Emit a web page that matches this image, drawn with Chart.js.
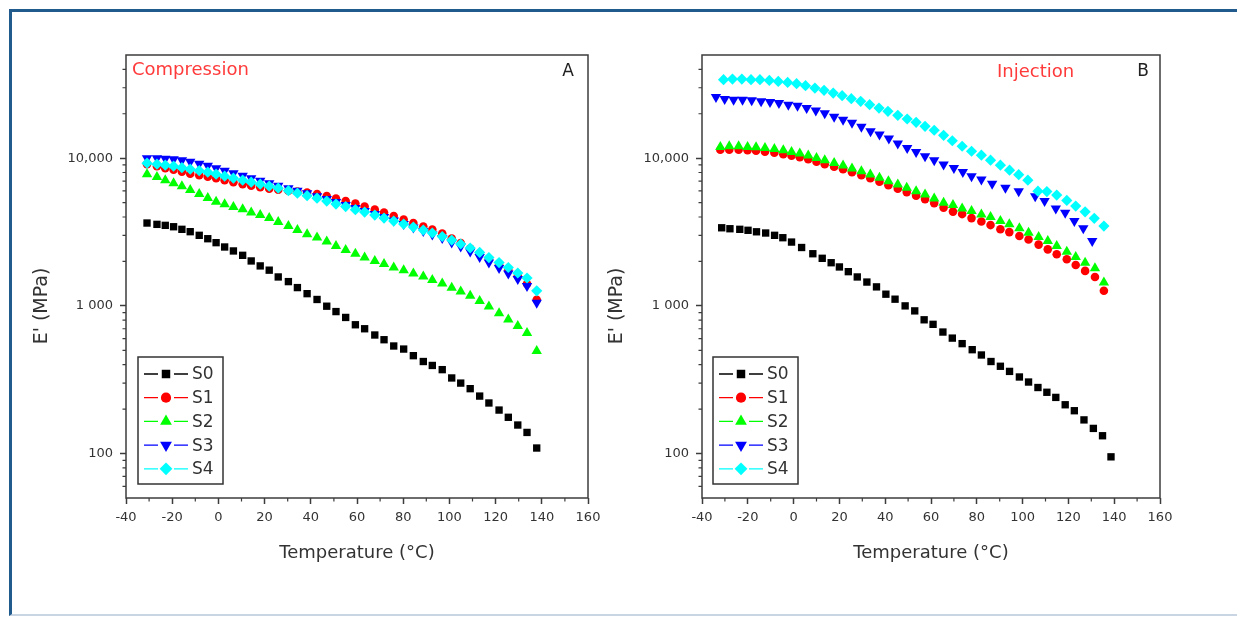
<!DOCTYPE html>
<html>
<head>
<meta charset="utf-8">
<script src="https://cdn.jsdelivr.net/npm/chart.js@4.4.0/dist/chart.umd.min.js"></script>
<style>
  html, body { margin: 0; padding: 0; background: #fff; }
  #page { position: relative; width: 1237px; height: 617px; overflow: hidden; }
  #frame { position: absolute; left: 9px; top: 9px; width: 1300px; height: 602px;
           border-top: 3px solid #215a8d; border-left: 3px solid #215a8d; border-bottom: 2px solid #c9d5e2; }
  canvas { position: absolute; top: 0; }
  #cA { left: 0; }
  #cB { left: 600px; }
</style>
</head>
<body>
<div id="page">
  <div id="frame"></div>
  <canvas id="cA" width="620" height="617"></canvas>
  <canvas id="cB" width="637" height="617"></canvas>
</div>
<script>
// temperatures (°C) and storage modulus E' (MPa)
const tempA = [-30.9, -26.6, -23.0, -19.4, -15.8, -12.2, -8.3, -4.6, -1.0, 2.7, 6.5, 10.5, 14.2, 18.1, 22.0, 25.9, 30.3, 34.2, 38.4, 42.7, 46.9, 50.9, 55.1, 59.3, 63.3, 67.7, 71.7, 75.9, 80.2, 84.4, 88.7, 92.6, 96.9, 101.0, 104.9, 109.0, 113.1, 117.1, 121.5, 125.5, 129.6, 133.6, 137.8];
const compS0 = [3640, 3565, 3510, 3435, 3300, 3180, 3005, 2850, 2680, 2505, 2355, 2200, 2015, 1865, 1745, 1570, 1460, 1330, 1210, 1105, 995, 915, 835, 745, 700, 635, 590, 535, 510, 460, 420, 395, 370, 325, 300, 275, 245, 220, 197, 176, 156, 139, 109];
const compS1 = [9110, 8830, 8560, 8360, 8105, 7860, 7675, 7500, 7325, 7100, 6885, 6675, 6520, 6370, 6220, 6125, 6030, 5940, 5845, 5715, 5535, 5325, 5125, 4930, 4705, 4485, 4285, 4055, 3840, 3635, 3445, 3290, 3090, 2860, 2665, 2445, 2265, 2080, 1905, 1750, 1595, 1410, 1100];
const compS2 = [7800, 7450, 7100, 6775, 6465, 6080, 5715, 5370, 5080, 4885, 4665, 4520, 4285, 4120, 3935, 3700, 3475, 3265, 3060, 2905, 2730, 2545, 2390, 2255, 2130, 2015, 1925, 1820, 1740, 1660, 1580, 1500, 1420, 1325, 1250, 1170, 1080, 990, 890, 810, 730, 655, 495];
const compS3 = [10000, 10000, 9920, 9845, 9695, 9470, 9180, 8900, 8560, 8235, 7920, 7615, 7325, 7045, 6780, 6520, 6270, 6030, 5800, 5535, 5285, 5045, 4815, 4595, 4385, 4185, 3995, 3780, 3580, 3390, 3210, 3040, 2880, 2685, 2525, 2335, 2145, 1965, 1805, 1655, 1520, 1365, 1050];
const compS4 = [9250, 9110, 8970, 8830, 8625, 8430, 8235, 8045, 7795, 7555, 7325, 7100, 6885, 6675, 6470, 6270, 6030, 5800, 5580, 5365, 5125, 4890, 4705, 4485, 4315, 4120, 3930, 3750, 3580, 3415, 3260, 3115, 2950, 2790, 2625, 2465, 2300, 2125, 1965, 1820, 1670, 1545, 1265];

const tempB0 = [-31.4, -27.8, -23.5, -19.9, -16.2, -12.2, -8.3, -4.7, -0.9, 3.5, 8.4, 12.5, 16.4, 20.0, 23.9, 27.8, 32.0, 36.2, 40.3, 44.3, 48.7, 52.9, 57.0, 60.9, 65.2, 69.3, 73.6, 78.0, 82.0, 86.2, 90.3, 94.3, 98.6, 102.6, 106.7, 110.6, 114.5, 118.6, 122.6, 126.8, 130.9, 134.9, 138.6];
const tempB12 = [-32.0, -28.1, -24.0, -20.1, -16.4, -12.5, -8.4, -4.5, -0.9, 2.7, 6.4, 10.0, 13.6, 17.7, 21.6, 25.5, 29.6, 33.5, 37.5, 41.4, 45.5, 49.4, 53.5, 57.4, 61.4, 65.5, 69.6, 73.6, 77.7, 82.0, 86.0, 90.3, 94.2, 98.6, 102.6, 107.0, 111.0, 114.9, 119.3, 123.2, 127.3, 131.6, 135.5];
const tempB3 = [-33.9, -30.1, -26.2, -22.3, -18.3, -14.2, -10.3, -6.4, -2.3, 1.7, 5.7, 9.7, 13.6, 17.7, 21.6, 25.5, 29.6, 33.6, 37.5, 41.6, 45.5, 49.6, 53.5, 57.4, 61.4, 65.5, 70.0, 73.9, 77.7, 82.0, 86.7, 92.5, 98.3, 105.5, 109.6, 114.5, 118.6, 122.6, 126.5, 130.4];
const tempB4 = [-30.6, -26.7, -22.6, -18.6, -14.7, -10.6, -6.7, -2.6, 1.3, 5.2, 9.3, 13.3, 17.3, 21.2, 25.2, 29.3, 33.2, 37.3, 41.2, 45.5, 49.6, 53.5, 57.4, 61.4, 65.5, 69.3, 73.6, 77.7, 82.0, 86.0, 90.3, 94.3, 98.3, 102.3, 106.7, 110.6, 114.9, 119.3, 123.2, 127.3, 131.3, 135.5];
const injS0 = [3380, 3330, 3300, 3250, 3175, 3115, 3005, 2895, 2705, 2485, 2255, 2100, 1960, 1835, 1705, 1570, 1450, 1345, 1200, 1110, 1000, 925, 805, 750, 665, 605, 555, 505, 465, 420, 390, 360, 330, 305, 280, 260, 240, 214, 195, 169, 148, 132, 95];
const injS1 = [11410, 11410, 11410, 11330, 11240, 11060, 10890, 10640, 10400, 10160, 9845, 9470, 9110, 8765, 8430, 8045, 7675, 7325, 6935, 6570, 6220, 5895, 5580, 5285, 4965, 4630, 4350, 4185, 3930, 3725, 3525, 3300, 3160, 2970, 2815, 2600, 2415, 2235, 2070, 1890, 1725, 1570, 1265];
const injS2 = [11920, 12050, 12050, 11920, 11870, 11740, 11560, 11330, 11030, 10760, 10430, 10050, 9695, 9295, 8930, 8520, 8170, 7760, 7360, 6995, 6640, 6300, 5985, 5685, 5340, 4990, 4815, 4570, 4385, 4165, 3995, 3750, 3565, 3350, 3130, 2925, 2750, 2545, 2325, 2145, 1960, 1795, 1440];
const injS3 = [25960, 25160, 24930, 24930, 24660, 24280, 24020, 23640, 23060, 22700, 21870, 21030, 20140, 19080, 18200, 17380, 16320, 15220, 14460, 13590, 12570, 11740, 11030, 10310, 9695, 9065, 8600, 8080, 7555, 7180, 6705, 6300, 5985, 5535, 5125, 4570, 4270, 3750, 3350, 2750];
const injS4 = [34020, 34340, 34340, 34020, 34020, 33650, 33140, 32620, 31970, 30990, 29850, 28810, 27620, 26530, 25320, 24280, 23060, 21870, 20780, 19520, 18430, 17510, 16450, 15460, 14300, 13130, 12050, 11150, 10480, 9695, 8970, 8295, 7735, 7100, 5985, 5940, 5625, 5180, 4740, 4335, 3915, 3470];

const seriesNames = ['S0', 'S1', 'S2', 'S3', 'S4'];
const xMajorTicks = [-40, -20, 0, 20, 40, 60, 80, 100, 120, 140, 160];
const xMinorTicks = [-30, -10, 10, 30, 50, 70, 90, 110, 130, 150];
const yMajorTicks = [100, 1000, 10000];
const yTickText = { 100: '100', 1000: '1 000', 10000: '10,000' };
const yMinorTicks = [60, 70, 80, 90, 200, 300, 400, 500, 600, 700, 800, 900,
  2000, 3000, 4000, 5000, 6000, 7000, 8000, 9000, 20000, 30000, 40000];

const seriesStyle = [
  { color: '#000000', pointStyle: 'rect', radius: 5.2, rotation: 0 },
  { color: '#ff0000', pointStyle: 'circle', radius: 4.3, rotation: 0 },
  { color: '#00ff00', pointStyle: 'triangle', radius: 6, rotation: 0 },
  { color: '#0000ff', pointStyle: 'triangle', radius: 6, rotation: 180 },
  { color: '#00ffff', pointStyle: 'rectRot', radius: 5.6, rotation: 0 }
];

const FONT = "'DejaVu Sans', sans-serif";
const axisColor = '#3c3c3c';
const textColor = '#333';

const panels = [
  {
    canvas: 'cA', plotLeft: 126, padRight: 32,
    name: 'Compression', nameX: 132, nameY: 70, nameAlign: 'left',
    letter: 'A', letterX: 568, yTitleX: 42, legendX: 138,
    temps: [tempA, tempA, tempA, tempA, tempA],
    values: [compS0, compS1, compS2, compS3, compS4]
  },
  {
    canvas: 'cB', plotLeft: 102, padRight: 77,
    name: 'Injection', nameX: 397, nameY: 72, nameAlign: 'left',
    letter: 'B', letterX: 543, yTitleX: 17, legendX: 113,
    temps: [tempB0, tempB12, tempB12, tempB3, tempB4],
    values: [injS0, injS1, injS2, injS3, injS4]
  }
];

function makeDecor(p) {
  return {
    id: 'decor',
    afterDatasetsDraw(chart) {
      const ctx = chart.ctx, a = chart.chartArea;
      const xs = chart.scales.x, ys = chart.scales.y;
      ctx.save();
      // plot frame
      ctx.strokeStyle = axisColor;
      ctx.lineWidth = 1.5;
      ctx.strokeRect(a.left, a.top, a.right - a.left, a.bottom - a.top);
      // minor ticks
      ctx.lineWidth = 1.2;
      ctx.beginPath();
      xMinorTicks.forEach(v => {
        const px = xs.getPixelForValue(v);
        ctx.moveTo(px, a.bottom); ctx.lineTo(px, a.bottom + 3.5);
      });
      yMinorTicks.forEach(v => {
        const py = ys.getPixelForValue(v);
        ctx.moveTo(a.left, py); ctx.lineTo(a.left - 3.5, py);
      });
      ctx.stroke();

      // panel texts
      ctx.textBaseline = 'middle';
      ctx.font = '18px ' + FONT;
      ctx.fillStyle = '#ff3a3a';
      ctx.textAlign = p.nameAlign;
      ctx.fillText(p.name, p.nameX, p.nameY);
      ctx.font = '17px ' + FONT;
      ctx.fillStyle = '#222';
      ctx.textAlign = 'center';
      ctx.fillText(p.letter, p.letterX, 72);

      // axis titles
      ctx.fillStyle = textColor;
      ctx.font = '18px ' + FONT;
      ctx.fillText('Temperature (°C)', (a.left + a.right) / 2, 553);
      ctx.save();
      ctx.translate(p.yTitleX, 306);
      ctx.rotate(-Math.PI / 2);
      ctx.font = '19px ' + FONT;
      ctx.fillText("E' (MPa)", 0, 0);
      ctx.restore();

      // legend
      const lx = p.legendX, ly = 357, lw = 85, lh = 127;
      ctx.fillStyle = '#fff';
      ctx.fillRect(lx, ly, lw, lh);
      ctx.strokeStyle = '#333';
      ctx.lineWidth = 1.5;
      ctx.strokeRect(lx, ly, lw, lh);
      chart.data.datasets.forEach((ds, i) => {
        const st = seriesStyle[i];
        const y = ly + 17 + i * 23.7;
        const mx = lx + 28;
        ctx.strokeStyle = st.color;
        ctx.lineWidth = 1.3;
        ctx.beginPath();
        ctx.moveTo(lx + 6, y); ctx.lineTo(mx - 8, y);
        ctx.moveTo(mx + 8, y); ctx.lineTo(lx + 50, y);
        ctx.stroke();
        ctx.fillStyle = st.color;
        Chart.helpers.drawPoint(ctx, {
          pointStyle: st.pointStyle, radius: st.radius + 0.8,
          rotation: st.rotation, borderWidth: 0
        }, mx, y);
        ctx.fillStyle = textColor;
        ctx.font = '17px ' + FONT;
        ctx.textAlign = 'left';
        ctx.fillText(ds.label, lx + 54, y + 1);
      });
      ctx.restore();
    }
  };
}

panels.forEach(p => {
  const datasets = p.values.map((vals, i) => ({
    label: seriesNames[i],
    data: vals.map((v, j) => ({ x: p.temps[i][j], y: v })),
    showLine: false,
    pointStyle: seriesStyle[i].pointStyle,
    pointRadius: seriesStyle[i].radius,
    pointRotation: seriesStyle[i].rotation,
    pointBorderWidth: 0,
    backgroundColor: seriesStyle[i].color,
    borderColor: seriesStyle[i].color,
    order: 4 - i
  }));

  new Chart(document.getElementById(p.canvas), {
    type: 'scatter',
    data: { datasets },
    options: {
      responsive: false,
      animation: false,
      events: [],
      layout: { padding: { left: 0, right: p.padRight, top: 55, bottom: 0 } },
      plugins: { legend: { display: false }, tooltip: { enabled: false } },
      scales: {
        x: {
          type: 'linear', min: -40, max: 160,
          afterFit: s => { s.height = 119; },
          afterBuildTicks: s => { s.ticks = xMajorTicks.map(v => ({ value: v })); },
          ticks: {
            callback: v => String(v),
            font: { family: FONT, size: 13 }, color: textColor,
            padding: 6, maxRotation: 0, autoSkip: false
          },
          grid: { drawOnChartArea: false, tickLength: 6, tickWidth: 1.5, color: axisColor },
          border: { display: false }
        },
        y: {
          type: 'logarithmic', min: 50, max: 50000,
          afterFit: s => { s.width = p.plotLeft; },
          afterBuildTicks: s => { s.ticks = yMajorTicks.map(v => ({ value: v })); },
          ticks: {
            callback: v => yTickText[v] ?? '',
            font: { family: FONT, size: 13 }, color: textColor,
            padding: 7, autoSkip: false
          },
          grid: { drawOnChartArea: false, tickLength: 6, tickWidth: 1.5, color: axisColor },
          border: { display: false }
        }
      }
    },
    plugins: [makeDecor(p)]
  });
});
</script>
</body>
</html>
